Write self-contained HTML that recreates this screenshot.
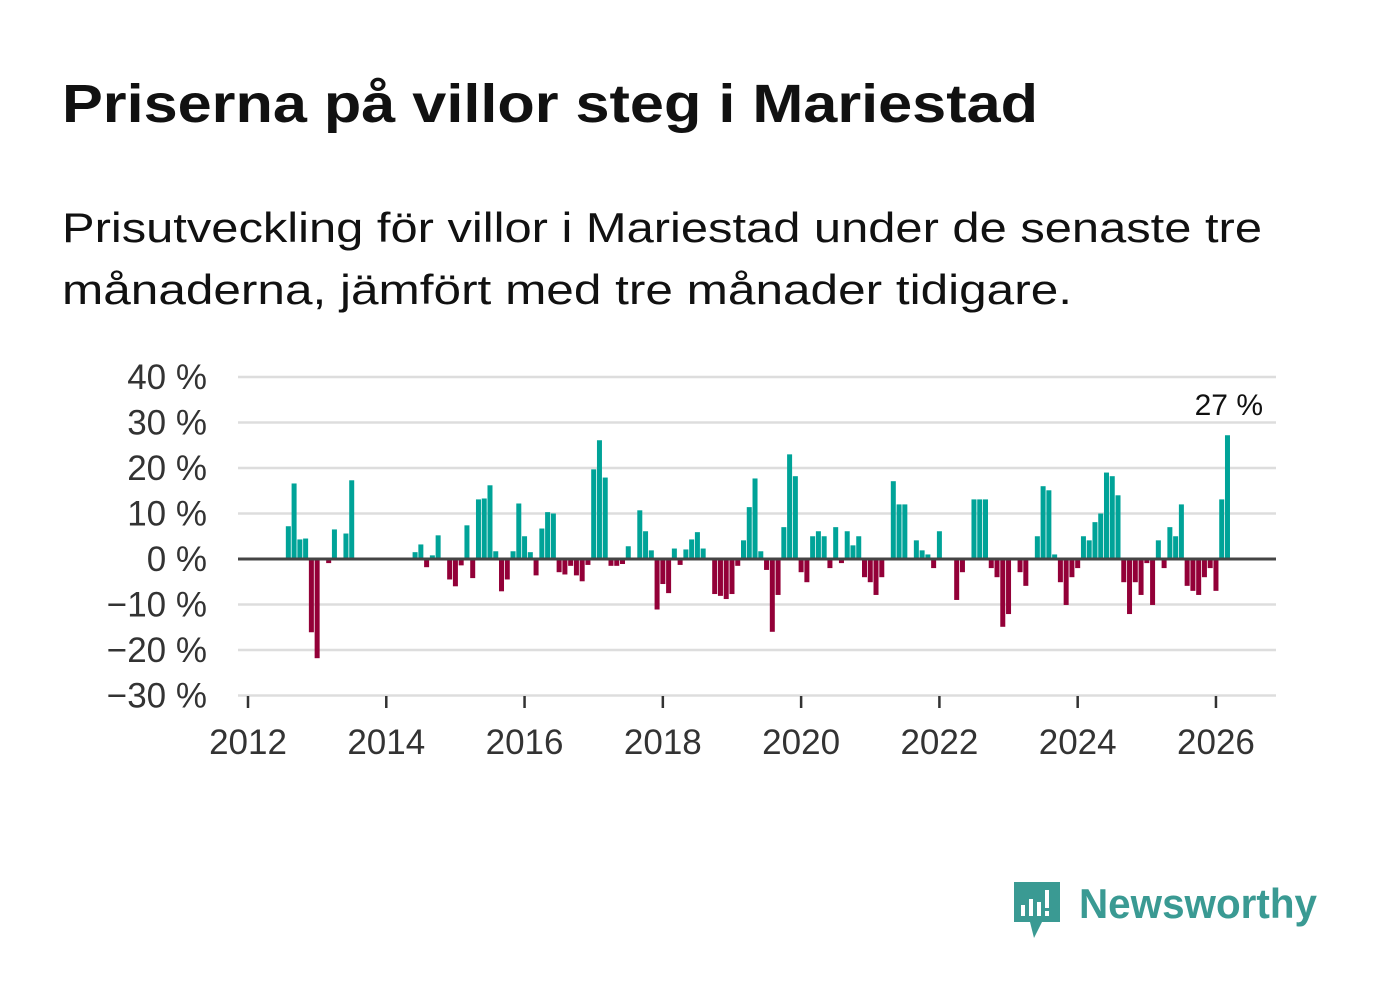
<!DOCTYPE html>
<html><head><meta charset="utf-8"><style>
html,body{margin:0;padding:0;background:#fff;}
svg{display:block;font-family:"Liberation Sans",sans-serif;}
</style></head><body>
<svg id="chart" width="1382" height="999" viewBox="0 0 1382 999">
<text x="62" y="122" font-size="54" font-weight="bold" fill="#111" textLength="976" lengthAdjust="spacingAndGlyphs">Priserna på villor steg i Mariestad</text>
<text x="62" y="242" font-size="42" fill="#111" textLength="1200" lengthAdjust="spacingAndGlyphs">Prisutveckling för villor i Mariestad under de senaste tre</text>
<text x="62" y="304" font-size="42" fill="#111" textLength="1010" lengthAdjust="spacingAndGlyphs">månaderna, jämfört med tre månader tidigare.</text>
<g id="grid"></g>
<g id="bars"></g>
<g id="axes"></g>
<g>
<path d="M1014 882 h46 v40 h-18 l-8 16 l-4 -16 h-16 z" fill="#3a9a93"/>
<rect x="1021" y="905" width="4" height="11" fill="#fff"/>
<rect x="1029" y="899" width="4" height="17" fill="#fff"/>
<rect x="1037" y="902" width="4" height="14" fill="#fff"/>
<rect x="1045" y="890" width="4" height="18" fill="#fff"/>
<rect x="1045" y="911" width="4" height="5" fill="#fff"/>
<text x="1079" y="918" font-size="42" font-weight="bold" fill="#3a9a93" textLength="238" lengthAdjust="spacingAndGlyphs">Newsworthy</text>
</g>
</svg>
<script>
// monthly values starting Aug 2012 (null = no data)
const startMonth = 7; // months since Jan 2012
const values = [7.2,16.6,4.3,4.5,-16.1,-21.8,null,-0.9,6.5,null,5.6,17.3,
null,null,null,null,null,null,null,null,null,null,
1.5,3.2,-1.8,0.8,5.2,null,-4.5,-6.0,-1.4,7.4,-4.2,13.1,13.3,16.2,1.7,-7.1,-4.5,1.7,12.2,5.0,1.5,-3.6,6.7,
10.3,10.0,-2.9,-3.4,-1.5,-3.6,-4.9,-1.3,19.7,26.1,17.9,-1.5,-1.5,-1.1,2.8,null,
10.7,6.1,1.9,-11.1,-5.5,-7.5,2.3,-1.3,2.1,4.3,5.9,2.3,null,
-7.7,-8.1,-8.8,-7.7,-1.5,4.1,11.4,17.7,1.7,-2.4,-16.0,-7.9,7.0,23.0,18.2,-2.9,-5.1,5.0,6.1,5.0,-2.0,
7.0,-0.9,6.1,3.0,5.0,-4.0,-5.1,-7.9,-4.0,null,17.1,12.0,12.0,null,4.1,1.9,1.0,-2.0,6.1,
null,null,-9.0,-2.9,null,13.1,13.1,13.1,-2.0,-4.0,-14.9,-12.1,null,-2.9,-5.9,null,
5.0,16.0,15.1,1.0,-5.1,-10.1,-4.0,-2.0,5.0,4.1,8.1,10.0,19.0,18.2,14.0,
-5.1,-12.1,-5.1,-7.9,-0.9,-10.1,4.1,-2.0,7.0,5.0,12.0,-5.9,-7.0,-7.9,-4.0,-2.0,-7.0,13.1,27.2];
const yTicks = [40,30,20,10,0,-10,-20,-30];
const yTickLabels = ["40 %","30 %","20 %","10 %","0 %","\u221210 %","\u221220 %","\u221230 %"];
const xTicks = [2012,2014,2016,2018,2020,2022,2024,2026];

const NS="http://www.w3.org/2000/svg";
const X0=238,X1=1276;
function y(v){return 559 - v*4.55;}
function xm(m){return 248 + m*69.14/12;}
function xy(yr){return 248 + (yr-2012)*69.14;}
function mk(tag,attrs,parent){const e=document.createElementNS(NS,tag);for(const k in attrs)e.setAttribute(k,attrs[k]);parent.appendChild(e);return e;}
const grid=document.getElementById('grid'),bars=document.getElementById('bars'),axes=document.getElementById('axes');
yTicks.forEach((t,i)=>{
  if(t!==0){const l=mk('line',{x1:X0,x2:X1,y1:y(t),y2:y(t),stroke:'#dddddd','stroke-width':2.5},grid);
  
  }
  const tx=mk('text',{x:207,y:y(t)+12,'font-size':35,fill:'#333','text-anchor':'end'},axes);
  tx.textContent=yTickLabels[i];
  
  
});
values.forEach((v,i)=>{
  if(v===null)return;
  const cx=xm(startMonth+i);
  const r=mk('rect',{x:cx-2.5,width:5,y:Math.min(y(v),y(0)),height:Math.abs(y(v)-y(0)),fill:v>=0?'#00a398':'#930038'},bars);
  
  
});
const z=mk('line',{x1:X0,x2:X1,y1:y(0),y2:y(0),stroke:'#444','stroke-width':3},axes);


xTicks.forEach(yr=>{
  const tk=mk('line',{x1:xy(yr),x2:xy(yr),y1:696,y2:708,stroke:'#333','stroke-width':2.5},axes);
  
  
  const tx=mk('text',{x:xy(yr),y:754,'font-size':35,fill:'#333','text-anchor':'middle'},axes);
  tx.textContent=yr;
  
  
});
const last=values[values.length-1];
const lab=mk('text',{x:1263,y:415,'font-size':30,fill:'#111','text-anchor':'end'},axes);
lab.textContent=Math.round(last)+" %";


</script>
</body></html>
